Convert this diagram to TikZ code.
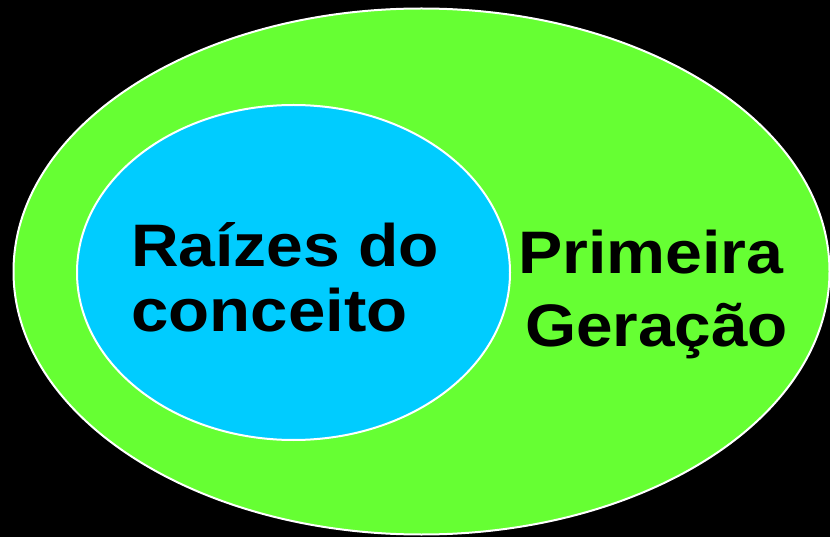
\documentclass[tikz,border=0pt]{standalone}
\usepackage{fontspec}
\setmainfont{Liberation Sans}
\usepackage{graphicx}
\usetikzlibrary{shapes.geometric}
\definecolor{lgreen}{HTML}{66FF33}
\definecolor{lblue}{HTML}{00CCFF}
\begin{document}
\begin{tikzpicture}[x=1pt,y=-1pt,
  oval/.style={ellipse,draw=white,line width=2pt,inner sep=0pt,outer sep=0pt},
  lbl/.style={anchor=base west,inner sep=0pt,font=\fontsize{60}{60}\selectfont\bfseries,text=black}]
\fill[black] (0,0) rectangle (830,537);
\useasboundingbox (0,0) rectangle (830,537);
\node[oval,fill=lgreen,minimum width=816pt,minimum height=526pt] (outer) at (421.5,271.5) {};
\node[oval,fill=lblue,minimum width=433pt,minimum height=335pt] (inner) at (293.5,272.5) {};
\node[lbl] (r1) at (131,267) {\scalebox{1.10}[1]{Raízes do}};
\node[lbl] (r2) at (131,331) {\scalebox{1.12}[1]{conceito}};
\node[lbl] (p1) at (518,274) {\scalebox{1.105}[1]{Primeira}};
\node[lbl] (p2) at (525,346) {\scalebox{1.095}[1]{Geração}};
\end{tikzpicture}
\end{document}
